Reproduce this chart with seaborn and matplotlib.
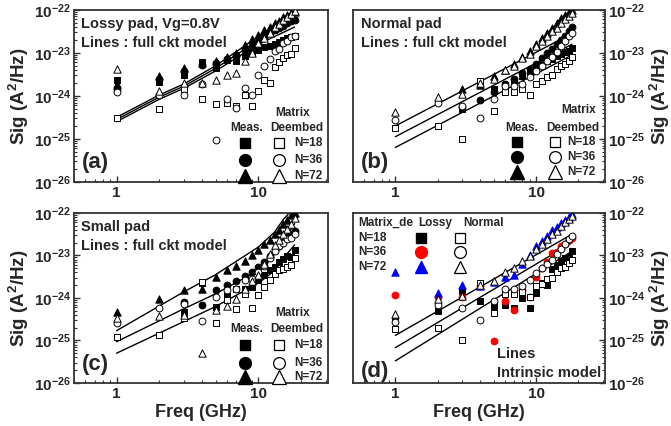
import numpy as np
import matplotlib
matplotlib.use("Agg")
import matplotlib.pyplot as plt
import seaborn as sns
from matplotlib.ticker import FixedLocator, FuncFormatter, NullFormatter

sns.set_style("ticks")
plt.rcParams['font.family'] = ['Liberation Sans', 'DejaVu Sans']
plt.rcParams['font.weight'] = 'bold'
plt.rcParams['axes.labelweight'] = 'bold'
plt.rcParams['mathtext.fontset'] = 'custom'
plt.rcParams['mathtext.rm'] = 'Liberation Sans:bold'
plt.rcParams['mathtext.bf'] = 'Liberation Sans:bold'
plt.rcParams['mathtext.it'] = 'Liberation Sans:bold'

NaN = np.nan
freq = list(range(1, 19))

# ---- values, as log10(Sig) ----
# (a) Lossy pad
a_meas18 = [-23.64, -23.67, -23.51, -23.22, -23.36, -23.16, -23.20, -23.07, -23.01, -22.93, -22.87, -22.83, -22.80, -22.76, -22.71, -22.66, -22.64, -22.60]
a_meas36 = [-23.84, -23.61, -23.43, -23.28, -23.24, -23.15, -23.05, -22.93, -22.84, -22.74, -22.64, -22.55, -22.48, -22.43, -22.38, -22.31, -22.27, -22.23]
a_meas72 = [-23.72, -23.55, -23.36, -23.24, -23.19, -23.09, -23.01, -22.82, -22.68, -22.58, -22.46, -22.39, -22.31, -22.25, -22.17, -22.12, -22.08, -22.04]
a_de18 = [-24.52, -24.31, -23.84, -24.07, -24.19, -24.16, -24.23, -23.99, -24.23, -23.88, -23.64, -23.69, -23.32, -23.22, -23.12, -23.05, -23.03, -22.89]
a_de36 = [-23.92, -23.98, -23.98, -23.72, -25.02, -24.08, -24.29, -23.82, -23.98, -23.51, -23.30, -23.15, -22.95, -22.91, -22.78, -22.72, -22.64, -22.60]
a_de72 = [-23.38, -23.88, -23.69, -23.71, -23.63, -23.51, -23.46, -23.19, -23.00, -22.78, -22.65, -22.54, -22.40, -22.33, -22.24, -22.16, -22.09, -22.02]
a_line_f = [1, 2, 3, 5, 10, 18]
a_line_top = [-24.50, -23.98, -23.72, -23.30, -22.62, -22.05]
a_line_mid = [-24.55, -24.03, -23.77, -23.36, -22.71, -22.22]
a_line_bot = [-24.60, -24.08, -23.82, -23.42, -22.80, -22.40]

# (b) Normal pad
b_meas18 = [NaN, NaN, -24.30, -23.65, -23.85, -23.75, -23.65, -23.55, -23.45, -23.35, -23.28, -23.20, -23.15, -23.08, -23.02, -22.98, -22.95, -22.88]
b_meas36 = [NaN, NaN, -24.25, -24.10, -23.90, -23.72, -23.60, -23.48, -23.38, -23.25, -23.12, -23.00, -22.90, -22.80, -22.70, -22.60, -22.50, -22.40]
b_meas72 = [NaN, NaN, -23.85, -23.75, -23.55, -23.40, -23.25, -23.10, -22.95, -22.80, -22.65, -22.55, -22.42, -22.30, -22.20, -22.12, -22.05, -22.00]
b_de18 = [-24.74, -24.70, -25.00, -23.65, -24.36, -23.90, -23.90, -23.85, -23.97, -23.72, -23.66, -23.56, -23.52, -23.38, -23.30, -23.27, -23.18, -23.10]
b_de36 = [-24.57, -24.16, -24.23, -24.52, -24.07, -23.78, -23.78, -23.72, -23.57, -23.42, -23.30, -23.20, -23.10, -22.97, -22.85, -22.72, -22.62, -22.55]
b_de72 = [-24.38, -24.03, -23.96, -23.70, -23.60, -23.40, -23.30, -23.12, -23.02, -22.85, -22.72, -22.62, -22.50, -22.42, -22.30, -22.22, -22.15, -22.08]
b_line_f = [1, 18]
b_line_top = [-24.70, -22.55]
b_line_mid = [-24.95, -22.80]
b_line_bot = [-25.20, -23.05]

# (c) Small pad
c_meas18 = [NaN, NaN, -24.33, -23.65, -24.21, -23.95, -23.78, -23.80, -23.74, -23.57, -23.47, -23.35, -23.28, -23.16, -23.08, -23.02, -23.04, -22.88]
c_meas36 = [NaN, NaN, -24.10, -24.17, -23.82, -23.70, -23.60, -23.49, -23.39, -23.27, -23.15, -23.02, -22.88, -22.78, -22.68, -22.57, -22.49, -22.42]
c_meas72 = [-24.32, -24.03, -23.82, -23.78, -23.50, -23.35, -23.25, -23.13, -22.99, -22.86, -22.74, -22.63, -22.49, -22.41, -22.27, -22.16, -22.05, -22.00]
c_de18 = [-24.92, -24.88, -24.46, -23.62, -24.59, -24.04, -24.25, -23.90, -24.24, -23.94, -23.74, -23.57, -23.44, -23.33, -23.31, -23.27, -23.22, -23.05]
c_de36 = [-24.59, -24.23, -24.13, -24.54, -23.98, -23.82, -23.80, -23.58, -23.55, -23.39, -23.25, -23.07, -22.90, -22.78, -22.70, -22.62, -22.60, -22.49]
c_de72 = [-24.46, -24.43, -24.40, -25.29, -24.29, -24.20, -24.02, -23.80, -23.60, -23.45, -23.20, -22.96, -22.76, -22.64, -22.49, -22.37, -22.25, -22.11]
c_line_top_f = [1, 3, 5, 10, 13, 15, 16.5]
c_line_top = [-24.77, -23.85, -23.45, -22.80, -22.45, -22.15, -22.00]
c_line_f = [1, 3, 5, 10, 12, 14, 16, 18]
c_line_mid = [-25.03, -24.25, -23.90, -23.35, -23.12, -22.82, -22.52, -22.25]
c_line_bot = [-25.30, -24.55, -24.20, -23.65, -23.45, -23.20, -22.95, -22.75]

# (d) de-embedded lossy vs normal, intrinsic model lines
d_line_f = [1, 18]
d_line_top = [-24.88, -22.50]
d_line_mid = [-25.17, -22.70]
d_line_bot = [-25.48, -22.90]

# axis ticks
x_major = [1, 10]
x_minor = [0.5, 0.6, 0.7, 0.8, 0.9, 2, 3, 4, 5, 6, 7, 8, 9, 20, 30]
y_exponents = [-26, -25, -24, -23, -22]

panel_titles = {"a": ["Lossy pad, Vg=0.8V", "Lines : full ckt model"],
                "b": ["Normal pad", "Lines : full ckt model"],
                "c": ["Small pad", "Lines : full ckt model"]}
n_labels = ["N=18", "N=36", "N=72"]
markers = ["s", "o", "^"]

fig = plt.figure(figsize=(6.71, 4.26), dpi=100)
ax_a = fig.add_axes([0.110, 0.573, 0.379, 0.404])
ax_b = fig.add_axes([0.526, 0.573, 0.376, 0.404])
ax_c = fig.add_axes([0.110, 0.101, 0.379, 0.399])
ax_d = fig.add_axes([0.526, 0.101, 0.376, 0.399])

SIZES = {"s": 20, "o": 24, "^": 28}


def pts(ax, logs, marker, face, edge="black", z=3):
    y = np.power(10.0, np.array(logs, dtype=float))
    sns.scatterplot(x=freq, y=y, ax=ax, marker=marker, color=face, edgecolor=edge,
                    s=SIZES[marker], linewidth=0.7, legend=False, zorder=z)


def fit(ax, fx, logs):
    sns.lineplot(x=fx, y=np.power(10.0, np.array(logs)), ax=ax, color="black",
                 linewidth=1.0, estimator=None, legend=False, zorder=2)


def setup(ax, right=False, xlabel=False):
    ax.set_xscale("log")
    ax.set_yscale("log")
    ax.set_xlim(0.5, 31)
    ax.set_ylim(1e-26, 1e-22)
    ax.xaxis.set_major_locator(FixedLocator(x_major))
    ax.xaxis.set_major_formatter(FuncFormatter(lambda v, p: f"{v:g}"))
    ax.xaxis.set_minor_locator(FixedLocator(x_minor))
    ax.xaxis.set_minor_formatter(NullFormatter())
    y_major = [10.0 ** e for e in y_exponents]
    y_minor = [k * 10.0 ** e for e in y_exponents[:-1] for k in range(2, 10)]
    ax.yaxis.set_major_locator(FixedLocator(y_major))
    ax.yaxis.set_major_formatter(FuncFormatter(
        lambda v, p: r"$10^{%d}$" % int(np.round(np.log10(v)))))
    ax.yaxis.set_minor_locator(FixedLocator(y_minor))
    ax.yaxis.set_minor_formatter(NullFormatter())
    ax.tick_params(which="both", direction="in", top=False, color="#333333")
    ax.tick_params(which="major", length=4, width=1.0)
    ax.tick_params(which="minor", length=2, width=0.8)
    ax.tick_params(axis="x", labelsize=11, pad=3)
    ax.tick_params(axis="y", labelsize=11, pad=2)
    if right:
        ax.yaxis.tick_right()
        ax.yaxis.set_label_position("right")
        ax.tick_params(axis="y", which="both", left=False, right=True)
    else:
        ax.tick_params(axis="y", which="both", right=False, left=True)
    ax.set_ylabel("Sig (A$^2$/Hz)", fontsize=13.5, labelpad=2)
    if xlabel:
        ax.set_xlabel("Freq (GHz)", fontsize=13, labelpad=2)
    else:
        ax.set_xlabel("")
    for sp in ax.spines.values():
        sp.set_linewidth(1.3)
        sp.set_color("#333333")


def meas_legend(ax, xf, xo, xt, rows, hdr):
    for m, yy, lab in zip(markers, rows, n_labels):
        ms = {"s": 7.5, "o": 8.5, "^": 9.5}[m]
        ax.plot([xf], [yy], marker=m, ms=ms, color="black", ls="none",
                transform=ax.transAxes, clip_on=False, zorder=5)
        ax.plot([xo], [yy], marker=m, ms=ms, mfc="white", mec="black", mew=0.9, ls="none",
                transform=ax.transAxes, clip_on=False, zorder=5)
        ax.text(xt, yy, lab, transform=ax.transAxes, ha="left", va="center", fontsize=8.5)
    (mx, my), (meax, meay), (dex, dey) = hdr
    ax.text(mx, my, "Matrix", transform=ax.transAxes, ha="center", va="center", fontsize=8.5)
    ax.text(meax, meay, "Meas.", transform=ax.transAxes, ha="center", va="center", fontsize=8.5)
    ax.text(dex, dey, "Deembed", transform=ax.transAxes, ha="center", va="center", fontsize=8.5)


def titles(ax, key):
    t1, t2 = panel_titles[key]
    ax.text(0.03, 0.919, t1, transform=ax.transAxes, ha="left", va="center", fontsize=10.5)
    ax.text(0.03, 0.806, t2, transform=ax.transAxes, ha="left", va="center", fontsize=10.5)


for ax, lines in [(ax_a, [(a_line_f, a_line_top), (a_line_f, a_line_mid), (a_line_f, a_line_bot)]),
                  (ax_b, [(b_line_f, b_line_top), (b_line_f, b_line_mid), (b_line_f, b_line_bot)]),
                  (ax_c, [(c_line_top_f, c_line_top), (c_line_f, c_line_mid), (c_line_f, c_line_bot)]),
                  (ax_d, [(d_line_f, d_line_top), (d_line_f, d_line_mid), (d_line_f, d_line_bot)])]:
    for fx, lv in lines:
        fit(ax, fx, lv)

for ax, meas, de in [(ax_a, [a_meas18, a_meas36, a_meas72], [a_de18, a_de36, a_de72]),
                     (ax_b, [b_meas18, b_meas36, b_meas72], [b_de18, b_de36, b_de72]),
                     (ax_c, [c_meas18, c_meas36, c_meas72], [c_de18, c_de36, c_de72])]:
    for m, v in zip(markers, meas):
        pts(ax, v, m, "black", z=3)
    for m, v in zip(markers, de):
        pts(ax, v, m, "white", z=4)

# (d): lossy de-embedded (filled, coloured) vs normal de-embedded (open)
d_colors = ["black", "red", "blue"]
for m, v, c in zip(markers, [a_de18, a_de36, a_de72], d_colors):
    pts(ax_d, v, m, c, edge=c, z=3)
for m, v in zip(markers, [b_de18, b_de36, b_de72]):
    pts(ax_d, v, m, "white", z=4)

setup(ax_a)
setup(ax_b, right=True)
setup(ax_c, xlabel=True)
setup(ax_d, right=True, xlabel=True)

titles(ax_a, "a")
titles(ax_b, "b")
titles(ax_c, "c")

meas_legend(ax_a, 0.673, 0.807, 0.865, [0.227, 0.128, 0.035],
            [(0.86, 0.40), (0.68, 0.314), (0.875, 0.314)])
meas_legend(ax_b, 0.65, 0.80, 0.85, [0.234, 0.145, 0.06],
            [(0.895, 0.42), (0.67, 0.316), (0.87, 0.316)])
meas_legend(ax_c, 0.673, 0.807, 0.865, [0.224, 0.12, 0.037],
            [(0.86, 0.41), (0.68, 0.32), (0.875, 0.32)])

for ax, lab, yy in [(ax_a, "(a)", 0.11), (ax_b, "(b)", 0.11), (ax_c, "(c)", 0.106), (ax_d, "(d)", 0.07)]:
    ax.text(0.03, yy, lab, transform=ax.transAxes, ha="left", va="center", fontsize=16)

# (d) legend block
ax_d.text(0.02, 0.943, "Matrix_de", transform=ax_d.transAxes, ha="left", va="center", fontsize=8.5)
ax_d.text(0.258, 0.943, "Lossy", transform=ax_d.transAxes, ha="left", va="center", fontsize=8.5)
ax_d.text(0.437, 0.943, "Normal", transform=ax_d.transAxes, ha="left", va="center", fontsize=8.5)
for m, yy, lab, c in zip(markers, [0.851, 0.772, 0.684], n_labels, d_colors):
    ms = {"s": 7, "o": 8.5, "^": 9}[m]
    ax_d.text(0.02, yy, lab, transform=ax_d.transAxes, ha="left", va="center", fontsize=8.5)
    ax_d.plot([0.269], [yy], marker=m, ms=ms, color=c, ls="none", transform=ax_d.transAxes, zorder=5)
    ax_d.plot([0.425], [yy], marker=m, ms=ms, mfc="white", mec="black", mew=0.9, ls="none",
              transform=ax_d.transAxes, zorder=5)
ax_d.text(0.57, 0.17, "Lines", transform=ax_d.transAxes, ha="left", va="center", fontsize=10.5)
ax_d.text(0.57, 0.06, "Intrinsic model", transform=ax_d.transAxes, ha="left", va="center", fontsize=10.5)

fig.savefig("out.png", dpi=100)
